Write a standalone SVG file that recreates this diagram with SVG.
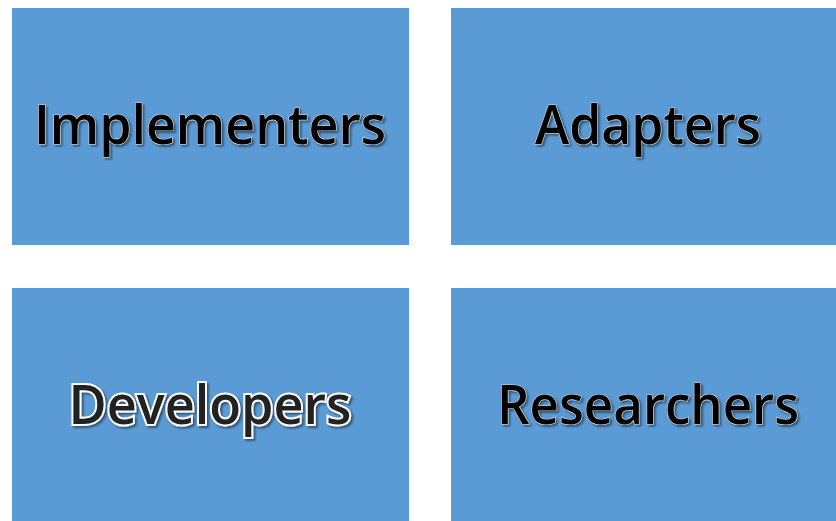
<svg xmlns="http://www.w3.org/2000/svg" width="836" height="521" viewBox="0 0 836 521">
<defs>
<filter id="sh" x="-10%" y="-30%" width="120%" height="160%">
<feDropShadow dx="2" dy="2" stdDeviation="1.2" flood-color="#000" flood-opacity="0.45"/>
</filter>
</defs>
<style>
.box{fill:#5b9bd5}
.t{font-family:"Open Sans","Noto Sans","Liberation Sans",sans-serif;font-weight:600;font-size:54px;text-anchor:middle}
.dark{fill:#000;stroke:#d8d8d8;stroke-width:1.2;paint-order:stroke;filter:url(#sh)}
.glow{fill:#222;stroke:#fff;stroke-width:4;paint-order:stroke;filter:url(#sh)}
</style>
<rect width="836" height="521" fill="#fff"/>
<g id="implementers">
<rect class="box" x="12" y="8" width="397" height="237"/>
<text class="t dark" x="210" y="144" textLength="352" lengthAdjust="spacingAndGlyphs">Implementers</text>
</g>
<g id="adapters">
<rect class="box" x="451" y="8" width="385" height="237"/>
<text class="t dark" x="648" y="144" textLength="226" lengthAdjust="spacingAndGlyphs">Adapters</text>
</g>
<g id="developers">
<rect class="box" x="12" y="288" width="397" height="233"/>
<text class="t glow" x="210" y="424" textLength="283" lengthAdjust="spacingAndGlyphs">Developers</text>
</g>
<g id="researchers">
<rect class="box" x="451" y="288" width="385" height="233"/>
<text class="t dark" x="648" y="424" textLength="302" lengthAdjust="spacingAndGlyphs">Researchers</text>
</g>
<g id="connectors"/>
</svg>
